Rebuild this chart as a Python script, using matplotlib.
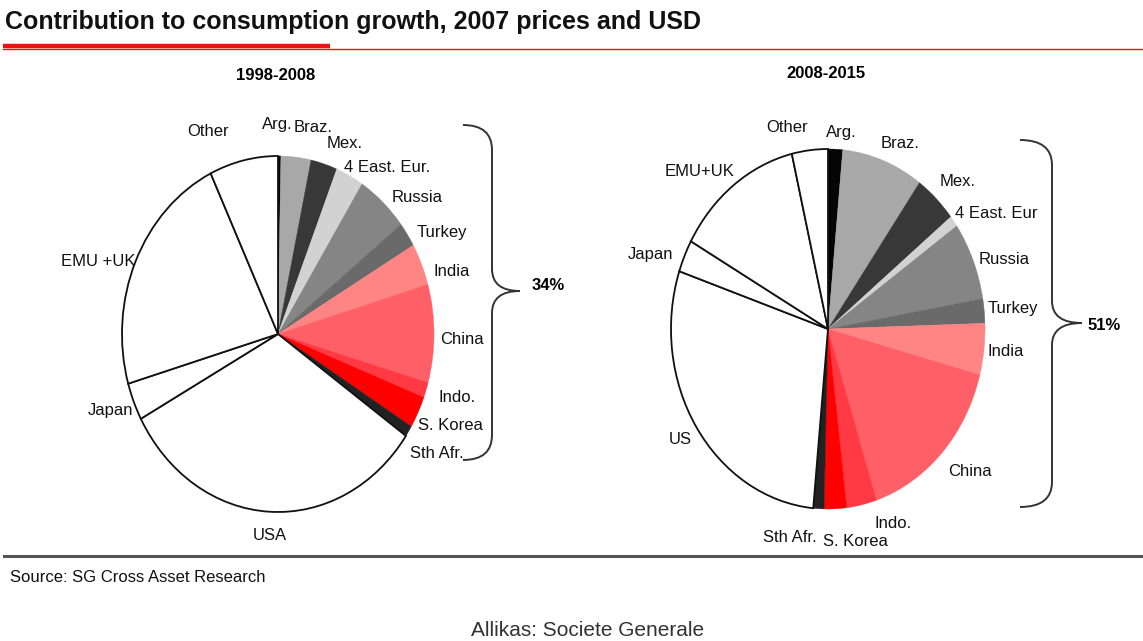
import matplotlib
matplotlib.use("Agg")
import matplotlib.pyplot as plt
from matplotlib.path import Path
from matplotlib.patches import PathPatch

# --- Data (share of consumption growth, %) ---
labels_1998_2008 = ['Arg.', 'Braz.', 'Mex.', '4 East. Eur.', 'Russia', 'Turkey', 'India',
                    'China', 'Indo.', 'S. Korea', 'Sth Afr.', 'USA', 'Japan', 'EMU +UK', 'Other']
share_1998_2008 = [0.3, 3.1, 2.75, 2.9, 5.4, 2.25, 3.8, 8.9, 1.4, 2.9, 1.0, 32.4, 3.4, 22.4, 7.1]

labels_2008_2015 = ['Arg.', 'Braz.', 'Mex.', '4 East. Eur', 'Russia', 'Turkey', 'India',
                    'China', 'Indo.', 'S. Korea', 'Sth Afr.', 'US', 'Japan', 'EMU+UK', 'Other']
share_2008_2015 = [1.5, 8.4, 4.4, 1.0, 7.0, 2.2, 4.6, 15.9, 3.1, 2.3, 1.1, 28.7, 2.9, 13.2, 3.7]

em_total = ['34%', '51%']

# --- Styling ---
slice_colors = ['#050505', '#a8a8a8', '#383838', '#d2d2d2', '#858585', '#6a6a6a', '#ff8585',
                '#ff6068', '#ff3a45', '#ff0000', '#222222', 'white', 'white', 'white', 'white']

W, H = 1143, 641
fig = plt.figure(figsize=(W / 100, H / 100), dpi=100)
fig.patch.set_facecolor('white')

FONT = ['Liberation Sans', 'DejaVu Sans']


def draw_pie(values, cx, cy, rx, ry):
    # pie axes sized so the unit pie becomes the (slightly tall) ellipse of the original
    ax = fig.add_axes([(cx - rx) / W, (H - cy - ry) / H, 2 * rx / W, 2 * ry / H])
    wedges, _ = ax.pie(values, colors=slice_colors, startangle=90, counterclock=False,
                       radius=1.0)
    for w, c in zip(wedges, slice_colors):
        if c == 'white':
            w.set_edgecolor('#111111')
            w.set_linewidth(1.3)
        else:
            w.set_edgecolor(c)
            w.set_linewidth(0.3)
        w.set_clip_on(False)
    ax.set_aspect('auto')
    ax.set_xlim(-1, 1)
    ax.set_ylim(-1, 1)
    ax.axis('off')
    return ax


draw_pie(share_1998_2008, 278, 334, 156, 178)
draw_pie(share_2008_2015, 828, 329, 157, 180)

# --- Overlay in pixel coordinates ---
ov = fig.add_axes([0, 0, 1, 1])
ov.set_xlim(0, W)
ov.set_ylim(H, 0)
ov.axis('off')

# title + red rules
ov.text(5, 22, 'Contribution to consumption growth, 2007 prices and USD', fontsize=18,
        fontweight='bold', family=FONT, va='center', ha='left', color='#111111')
ov.plot([3, 330], [46, 46], color='#ee1111', lw=3.2, solid_capstyle='butt')
ov.plot([3, W], [49, 49], color='#ee1111', lw=1.0)

ov.text(276, 75, '1998-2008', fontsize=12, fontweight='bold', family=FONT, ha='center', va='center')
ov.text(826, 74, '2008-2015', fontsize=12, fontweight='bold', family=FONT, ha='center', va='center')

# label positions (pixel centres)
pos_left = [(277, 125), (313, 128), (345, 143), (387, 167), (417, 197), (442, 232), (452, 272),
            (462, 339), (457, 398), (450, 425), (437, 453), (270, 535), (111, 410), (98, 262),
            (208, 132)]
pos_right = [(841, 132), (900, 143), (958, 181), (996, 213), (1004, 259), (1013, 309), (1006, 352),
             (970, 472), (893, 523), (855, 542), (790, 538), (680, 439), (651, 254), (700, 172),
             (787, 127)]

for lab, (x, y) in zip(labels_1998_2008, pos_left):
    ov.text(x, y, lab, fontsize=12, family=FONT, ha='center', va='center', color='#111111')
for lab, (x, y) in zip(labels_2008_2015, pos_right):
    ov.text(x, y, lab, fontsize=12, family=FONT, ha='center', va='center', color='#111111')


def brace(x_end, x_mid, x_tip, y_top, y_tip, y_bot):
    verts = [(x_end, y_top), (x_mid, y_top), (x_mid, y_top + 25),
             (x_mid, y_tip - 22),
             (x_mid, y_tip), (x_tip, y_tip),
             (x_mid, y_tip), (x_mid, y_tip + 22),
             (x_mid, y_bot - 25),
             (x_mid, y_bot), (x_end, y_bot)]
    codes = [Path.MOVETO, Path.CURVE3, Path.CURVE3, Path.LINETO,
             Path.CURVE3, Path.CURVE3, Path.CURVE3, Path.CURVE3,
             Path.LINETO, Path.CURVE3, Path.CURVE3]
    ov.add_patch(PathPatch(Path(verts, codes), fill=False, edgecolor='#333333', lw=1.4))


brace(463, 492, 520, 125, 291, 460)
brace(1020, 1052, 1082, 140, 323, 507)
ov.text(532, 286, em_total[0], fontsize=12, fontweight='bold', family=FONT, ha='left', va='center')
ov.text(1088, 325, em_total[1], fontsize=12, fontweight='bold', family=FONT, ha='left', va='center')

# bottom rule, source, credit
ov.plot([4, W], [556, 556], color='#555555', lw=2.2)
ov.text(10, 577, 'Source: SG Cross Asset Research', fontsize=12, family=FONT,
        ha='left', va='center', color='#111111')
ov.text(588, 630, 'Allikas: Societe Generale', fontsize=15, family=FONT,
        ha='center', va='center', color='#333333')

fig.savefig('out.png', dpi=100)
